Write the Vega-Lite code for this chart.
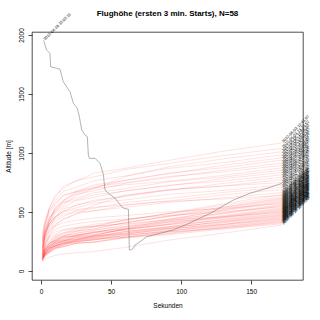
{
"$schema": "https://vega.github.io/schema/vega-lite/v6.json",
"width": 271, "height": 248,
"autosize": {"type": "none"},
"padding": {"left": 32, "top": 32, "right": 17, "bottom": 40},
"background": "white",
"title": {"text": "Flughöhe (ersten 3 min. Starts), N=58", "fontSize": 8, "fontWeight": "bold", "font": "Liberation Sans", "anchor": "middle", "offset": 11, "dy": 17, "color": "black"},
"config": {
 "view": {"stroke": "black", "strokeWidth": 0.7},
 "axis": {"domain": false, "grid": false, "tickColor": "black", "tickWidth": 0.7, "tickSize": 4, "labelFont": "Liberation Sans", "labelFontSize": 6.5, "labelColor": "black", "labelPadding": 4, "titleFont": "Liberation Sans", "titleFontSize": 6.5, "titleFontWeight": "normal", "titleColor": "black"},
 "axisX": {"titlePadding": 8},
 "axisY": {"labelAngle": 270, "labelAlign": "center", "labelBaseline": "bottom", "titlePadding": 7}
},
"datasets": {
"series": [
{"s":0,"lab":"2012-04-28 15:02:11"},{"s":1,"lab":"2012-05-03 12:41:07"},{"s":2,"lab":"2012-05-03 13:15:52"},{"s":3,"lab":"2012-05-05 11:58:20"},{"s":4,"lab":"2012-05-06 14:22:45"},{"s":5,"lab":"2012-05-10 12:03:18"},{"s":6,"lab":"2012-05-12 13:37:09"},{"s":7,"lab":"2012-05-13 15:11:44"},{"s":8,"lab":"2012-05-19 12:26:30"},{"s":9,"lab":"2012-05-20 14:49:02"},{"s":10,"lab":"2012-05-26 13:05:57"},{"s":11,"lab":"2012-05-27 11:44:36"},{"s":12,"lab":"2012-06-02 12:58:14"},{"s":13,"lab":"2012-06-03 14:10:48"},{"s":14,"lab":"2012-06-09 13:29:05"},{"s":15,"lab":"2012-06-10 12:17:39"},{"s":16,"lab":"2012-06-16 15:33:21"},{"s":17,"lab":"2012-06-17 13:46:50"},{"s":18,"lab":"2012-06-23 12:08:26"},{"s":19,"lab":"2012-06-24 14:55:13"},{"s":20,"lab":"2012-06-30 13:21:42"},{"s":21,"lab":"2012-07-01 12:39:58"},{"s":22,"lab":"2012-07-07 14:04:31"},{"s":23,"lab":"2012-07-08 13:52:16"},{"s":24,"lab":"2012-07-14 12:30:09"},{"s":25,"lab":"2012-07-15 15:18:47"},{"s":26,"lab":"2012-07-21 13:09:33"},{"s":27,"lab":"2012-07-22 11:57:25"},{"s":28,"lab":"2012-07-28 14:43:10"},{"s":29,"lab":"2012-07-29 12:51:38"},{"s":30,"lab":"2012-08-04 13:27:54"},{"s":31,"lab":"2012-08-05 14:36:19"},{"s":32,"lab":"2012-08-11 12:12:02"},{"s":33,"lab":"2012-08-12 13:58:46"},{"s":34,"lab":"2012-08-18 15:06:27"},{"s":35,"lab":"2012-08-19 12:45:13"},{"s":36,"lab":"2012-08-25 14:19:51"},{"s":37,"lab":"2012-08-26 13:33:08"},{"s":38,"lab":"2012-09-01 12:24:40"},{"s":39,"lab":"2012-09-02 14:07:35"},{"s":40,"lab":"2012-09-08 13:14:22"},{"s":41,"lab":"2012-09-09 12:48:59"},{"s":42,"lab":"2012-09-15 14:31:06"},{"s":43,"lab":"2012-09-16 13:02:44"},{"s":44,"lab":"2012-09-22 12:36:17"},{"s":45,"lab":"2012-09-23 14:59:28"},{"s":46,"lab":"2012-09-29 13:40:03"},{"s":47,"lab":"2012-09-30 12:19:55"},{"s":48,"lab":"2012-10-06 14:13:37"},{"s":49,"lab":"2012-10-07 13:25:11"},{"s":50,"lab":"2012-04-14 12:53:49"},{"s":51,"lab":"2012-04-15 14:28:24"},{"s":52,"lab":"2012-04-21 13:44:06"},{"s":53,"lab":"2012-04-22 12:06:58"},{"s":54,"lab":"2012-06-06 15:24:32"},{"s":55,"lab":"2012-07-11 13:38:15"},{"s":56,"lab":"2012-08-15 14:01:43"},{"s":57,"lab":"2012-09-12 12:57:20"}
],
"tracks": [
{"s":0,"t":1.9,"h":1952},{"s":0,"t":4.0,"h":1873},{"s":0,"t":6.4,"h":1845},{"s":0,"t":6.9,"h":1731},{"s":0,"t":11.2,"h":1718},{"s":0,"t":13.6,"h":1709},{"s":0,"t":15.9,"h":1604},{"s":0,"t":20.7,"h":1520},{"s":0,"t":23.1,"h":1421},{"s":0,"t":25.9,"h":1379},{"s":0,"t":27.4,"h":1308},{"s":0,"t":29.1,"h":1195},{"s":0,"t":31.4,"h":1153},{"s":0,"t":33.1,"h":1138},{"s":0,"t":33.8,"h":983},{"s":0,"t":34.5,"h":955},{"s":0,"t":38.6,"h":955},{"s":0,"t":42.1,"h":913},{"s":0,"t":44.5,"h":820},{"s":0,"t":45.7,"h":686},{"s":0,"t":48.1,"h":658},{"s":0,"t":52.9,"h":616},{"s":0,"t":57.6,"h":545},{"s":0,"t":59.3,"h":531},{"s":0,"t":62.4,"h":523},{"s":0,"t":63.1,"h":178},{"s":0,"t":64.1,"h":178},{"s":0,"t":65.9,"h":192},{"s":0,"t":67.1,"h":220},{"s":0,"t":70.7,"h":248},{"s":0,"t":75.5,"h":291},{"s":0,"t":80.2,"h":305},{"s":0,"t":94,"h":347},{"s":0,"t":104,"h":395},{"s":0,"t":112,"h":440},{"s":0,"t":121,"h":490},{"s":0,"t":137,"h":600},{"s":0,"t":149,"h":658},{"s":0,"t":161,"h":700},{"s":0,"t":172,"h":743},
{"s":1,"t":1,"h":250},{"s":1,"t":3,"h":395},{"s":1,"t":6,"h":540},{"s":1,"t":10,"h":615},{"s":1,"t":16,"h":720},{"s":1,"t":25,"h":760},{"s":1,"t":38,"h":830},{"s":1,"t":60,"h":870},{"s":1,"t":90,"h":935},{"s":1,"t":130,"h":1015},{"s":1,"t":172,"h":1085},
{"s":2,"t":1,"h":300},{"s":2,"t":3,"h":440},{"s":2,"t":6,"h":535},{"s":2,"t":10,"h":640},{"s":2,"t":16,"h":700},{"s":2,"t":25,"h":765},{"s":2,"t":38,"h":798},{"s":2,"t":60,"h":860},{"s":2,"t":90,"h":910},{"s":2,"t":130,"h":978},{"s":2,"t":172,"h":1040},
{"s":3,"t":1,"h":220},{"s":3,"t":3,"h":340},{"s":3,"t":6,"h":420},{"s":3,"t":10,"h":500},{"s":3,"t":16,"h":560},{"s":3,"t":25,"h":640},{"s":3,"t":38,"h":700},{"s":3,"t":60,"h":800},{"s":3,"t":90,"h":880},{"s":3,"t":130,"h":950},{"s":3,"t":172,"h":1010},
{"s":4,"t":1,"h":280},{"s":4,"t":3,"h":400},{"s":4,"t":6,"h":520},{"s":4,"t":10,"h":590},{"s":4,"t":16,"h":675},{"s":4,"t":25,"h":710},{"s":4,"t":38,"h":765},{"s":4,"t":60,"h":805},{"s":4,"t":90,"h":868},{"s":4,"t":130,"h":918},{"s":4,"t":172,"h":985},
{"s":5,"t":1,"h":180},{"s":5,"t":3,"h":330},{"s":5,"t":6,"h":430},{"s":5,"t":10,"h":540},{"s":5,"t":16,"h":600},{"s":5,"t":25,"h":670},{"s":5,"t":38,"h":705},{"s":5,"t":60,"h":770},{"s":5,"t":90,"h":822},{"s":5,"t":130,"h":895},{"s":5,"t":172,"h":960},
{"s":6,"t":1,"h":260},{"s":6,"t":3,"h":375},{"s":6,"t":6,"h":495},{"s":6,"t":10,"h":560},{"s":6,"t":16,"h":640},{"s":6,"t":25,"h":676},{"s":6,"t":38,"h":730},{"s":6,"t":60,"h":765},{"s":6,"t":90,"h":828},{"s":6,"t":130,"h":875},{"s":6,"t":172,"h":940},
{"s":7,"t":1,"h":200},{"s":7,"t":3,"h":335},{"s":7,"t":6,"h":428},{"s":7,"t":10,"h":530},{"s":7,"t":16,"h":588},{"s":7,"t":25,"h":650},{"s":7,"t":38,"h":680},{"s":7,"t":60,"h":742},{"s":7,"t":90,"h":790},{"s":7,"t":130,"h":855},{"s":7,"t":172,"h":915},
{"s":8,"t":1,"h":320},{"s":8,"t":3,"h":418},{"s":8,"t":6,"h":515},{"s":8,"t":10,"h":572},{"s":8,"t":16,"h":642},{"s":8,"t":25,"h":670},{"s":8,"t":38,"h":716},{"s":8,"t":60,"h":748},{"s":8,"t":90,"h":800},{"s":8,"t":130,"h":840},{"s":8,"t":172,"h":895},
{"s":9,"t":1,"h":150},{"s":9,"t":3,"h":310},{"s":9,"t":6,"h":420},{"s":9,"t":10,"h":520},{"s":9,"t":16,"h":600},{"s":9,"t":25,"h":660},{"s":9,"t":38,"h":700},{"s":9,"t":60,"h":730},{"s":9,"t":90,"h":760},{"s":9,"t":130,"h":810},{"s":9,"t":172,"h":875},
{"s":10,"t":1,"h":240},{"s":10,"t":3,"h":345},{"s":10,"t":6,"h":450},{"s":10,"t":10,"h":510},{"s":10,"t":16,"h":585},{"s":10,"t":25,"h":615},{"s":10,"t":38,"h":664},{"s":10,"t":60,"h":698},{"s":10,"t":90,"h":754},{"s":10,"t":130,"h":796},{"s":10,"t":172,"h":855},
{"s":11,"t":1,"h":190},{"s":11,"t":3,"h":312},{"s":11,"t":6,"h":396},{"s":11,"t":10,"h":488},{"s":11,"t":16,"h":540},{"s":11,"t":25,"h":596},{"s":11,"t":38,"h":624},{"s":11,"t":60,"h":680},{"s":11,"t":90,"h":720},{"s":11,"t":130,"h":782},{"s":11,"t":172,"h":835},
{"s":12,"t":1,"h":270},{"s":12,"t":3,"h":362},{"s":12,"t":6,"h":456},{"s":12,"t":10,"h":508},{"s":12,"t":16,"h":575},{"s":12,"t":25,"h":602},{"s":12,"t":38,"h":646},{"s":12,"t":60,"h":676},{"s":12,"t":90,"h":726},{"s":12,"t":130,"h":762},{"s":12,"t":172,"h":815},
{"s":13,"t":1,"h":160},{"s":13,"t":3,"h":282},{"s":13,"t":6,"h":362},{"s":13,"t":10,"h":454},{"s":13,"t":16,"h":504},{"s":13,"t":25,"h":560},{"s":13,"t":38,"h":588},{"s":13,"t":60,"h":642},{"s":13,"t":90,"h":683},{"s":13,"t":130,"h":742},{"s":13,"t":172,"h":795},
{"s":14,"t":1,"h":210},{"s":14,"t":3,"h":305},{"s":14,"t":6,"h":402},{"s":14,"t":10,"h":458},{"s":14,"t":16,"h":527},{"s":14,"t":25,"h":555},{"s":14,"t":38,"h":600},{"s":14,"t":60,"h":630},{"s":14,"t":90,"h":684},{"s":14,"t":130,"h":720},{"s":14,"t":172,"h":775},
{"s":15,"t":1,"h":130},{"s":15,"t":3,"h":220},{"s":15,"t":6,"h":300},{"s":15,"t":10,"h":380},{"s":15,"t":16,"h":440},{"s":15,"t":25,"h":480},{"s":15,"t":38,"h":560},{"s":15,"t":60,"h":640},{"s":15,"t":90,"h":690},{"s":15,"t":130,"h":720},{"s":15,"t":172,"h":750},
{"s":16,"t":1,"h":230},{"s":16,"t":3,"h":314},{"s":16,"t":6,"h":400},{"s":16,"t":10,"h":450},{"s":16,"t":16,"h":510},{"s":16,"t":25,"h":535},{"s":16,"t":38,"h":575},{"s":16,"t":60,"h":602},{"s":16,"t":90,"h":649},{"s":16,"t":130,"h":682},{"s":16,"t":172,"h":730},
{"s":17,"t":1,"h":170},{"s":17,"t":3,"h":274},{"s":17,"t":6,"h":342},{"s":17,"t":10,"h":420},{"s":17,"t":16,"h":462},{"s":17,"t":25,"h":510},{"s":17,"t":38,"h":532},{"s":17,"t":60,"h":580},{"s":17,"t":90,"h":614},{"s":17,"t":130,"h":665},{"s":17,"t":172,"h":710},
{"s":18,"t":1,"h":140},{"s":18,"t":3,"h":245},{"s":18,"t":6,"h":316},{"s":18,"t":10,"h":395},{"s":18,"t":16,"h":438},{"s":18,"t":25,"h":486},{"s":18,"t":38,"h":510},{"s":18,"t":60,"h":558},{"s":18,"t":90,"h":593},{"s":18,"t":130,"h":645},{"s":18,"t":172,"h":690},
{"s":19,"t":1,"h":200},{"s":19,"t":3,"h":300},{"s":19,"t":6,"h":380},{"s":19,"t":10,"h":440},{"s":19,"t":16,"h":480},{"s":19,"t":25,"h":500},{"s":19,"t":38,"h":510},{"s":19,"t":60,"h":540},{"s":19,"t":90,"h":580},{"s":19,"t":130,"h":620},{"s":19,"t":172,"h":665},
{"s":20,"t":1,"h":120},{"s":20,"t":3,"h":190},{"s":20,"t":6,"h":230},{"s":20,"t":10,"h":286},{"s":20,"t":16,"h":312},{"s":20,"t":25,"h":354},{"s":20,"t":38,"h":376},{"s":20,"t":60,"h":432},{"s":20,"t":90,"h":487},{"s":20,"t":130,"h":570},{"s":20,"t":172,"h":650},
{"s":21,"t":1,"h":250},{"s":21,"t":3,"h":330},{"s":21,"t":6,"h":400},{"s":21,"t":10,"h":460},{"s":21,"t":16,"h":500},{"s":21,"t":25,"h":520},{"s":21,"t":38,"h":540},{"s":21,"t":60,"h":560},{"s":21,"t":90,"h":590},{"s":21,"t":130,"h":610},{"s":21,"t":172,"h":640},
{"s":22,"t":1,"h":150},{"s":22,"t":3,"h":214},{"s":22,"t":6,"h":250},{"s":22,"t":10,"h":300},{"s":22,"t":16,"h":324},{"s":22,"t":25,"h":362},{"s":22,"t":38,"h":380},{"s":22,"t":60,"h":434},{"s":22,"t":90,"h":482},{"s":22,"t":130,"h":558},{"s":22,"t":172,"h":630},
{"s":23,"t":1,"h":110},{"s":23,"t":3,"h":176},{"s":23,"t":6,"h":216},{"s":23,"t":10,"h":270},{"s":23,"t":16,"h":294},{"s":23,"t":25,"h":334},{"s":23,"t":38,"h":356},{"s":23,"t":60,"h":412},{"s":23,"t":90,"h":463},{"s":23,"t":130,"h":542},{"s":23,"t":172,"h":620},
{"s":24,"t":1,"h":180},{"s":24,"t":3,"h":226},{"s":24,"t":6,"h":281},{"s":24,"t":10,"h":305},{"s":24,"t":16,"h":346},{"s":24,"t":25,"h":362},{"s":24,"t":38,"h":397},{"s":24,"t":60,"h":428},{"s":24,"t":90,"h":486},{"s":24,"t":130,"h":540},{"s":24,"t":172,"h":612},
{"s":25,"t":1,"h":130},{"s":25,"t":3,"h":192},{"s":25,"t":6,"h":228},{"s":25,"t":10,"h":278},{"s":25,"t":16,"h":300},{"s":25,"t":25,"h":340},{"s":25,"t":38,"h":358},{"s":25,"t":60,"h":410},{"s":25,"t":90,"h":458},{"s":25,"t":130,"h":532},{"s":25,"t":172,"h":604},
{"s":26,"t":1,"h":95},{"s":26,"t":3,"h":130},{"s":26,"t":6,"h":160},{"s":26,"t":10,"h":190},{"s":26,"t":16,"h":220},{"s":26,"t":25,"h":260},{"s":26,"t":38,"h":300},{"s":26,"t":60,"h":360},{"s":26,"t":90,"h":430},{"s":26,"t":130,"h":520},{"s":26,"t":172,"h":596},
{"s":27,"t":1,"h":160},{"s":27,"t":3,"h":206},{"s":27,"t":6,"h":260},{"s":27,"t":10,"h":284},{"s":27,"t":16,"h":324},{"s":27,"t":25,"h":340},{"s":27,"t":38,"h":375},{"s":27,"t":60,"h":405},{"s":27,"t":90,"h":464},{"s":27,"t":130,"h":516},{"s":27,"t":172,"h":588},
{"s":28,"t":1,"h":120},{"s":28,"t":3,"h":180},{"s":28,"t":6,"h":216},{"s":28,"t":10,"h":264},{"s":28,"t":16,"h":286},{"s":28,"t":25,"h":323},{"s":28,"t":38,"h":341},{"s":28,"t":60,"h":392},{"s":28,"t":90,"h":438},{"s":28,"t":130,"h":510},{"s":28,"t":172,"h":580},
{"s":29,"t":1,"h":200},{"s":29,"t":3,"h":280},{"s":29,"t":6,"h":340},{"s":29,"t":10,"h":380},{"s":29,"t":16,"h":410},{"s":29,"t":25,"h":430},{"s":29,"t":38,"h":450},{"s":29,"t":60,"h":470},{"s":29,"t":90,"h":500},{"s":29,"t":130,"h":530},{"s":29,"t":172,"h":572},
{"s":30,"t":1,"h":100},{"s":30,"t":3,"h":162},{"s":30,"t":6,"h":197},{"s":30,"t":10,"h":246},{"s":30,"t":16,"h":268},{"s":30,"t":25,"h":305},{"s":30,"t":38,"h":324},{"s":30,"t":60,"h":375},{"s":30,"t":90,"h":422},{"s":30,"t":130,"h":495},{"s":30,"t":172,"h":565},
{"s":31,"t":1,"h":140},{"s":31,"t":3,"h":186},{"s":31,"t":6,"h":238},{"s":31,"t":10,"h":260},{"s":31,"t":16,"h":300},{"s":31,"t":25,"h":316},{"s":31,"t":38,"h":350},{"s":31,"t":60,"h":378},{"s":31,"t":90,"h":437},{"s":31,"t":130,"h":487},{"s":31,"t":172,"h":558},
{"s":32,"t":1,"h":115},{"s":32,"t":3,"h":172},{"s":32,"t":6,"h":206},{"s":32,"t":10,"h":252},{"s":32,"t":16,"h":272},{"s":32,"t":25,"h":307},{"s":32,"t":38,"h":325},{"s":32,"t":60,"h":373},{"s":32,"t":90,"h":416},{"s":32,"t":130,"h":485},{"s":32,"t":172,"h":551},
{"s":33,"t":1,"h":170},{"s":33,"t":3,"h":250},{"s":33,"t":6,"h":300},{"s":33,"t":10,"h":350},{"s":33,"t":16,"h":380},{"s":33,"t":25,"h":400},{"s":33,"t":38,"h":420},{"s":33,"t":60,"h":440},{"s":33,"t":90,"h":470},{"s":33,"t":130,"h":500},{"s":33,"t":172,"h":544},
{"s":34,"t":1,"h":90},{"s":34,"t":3,"h":150},{"s":34,"t":6,"h":183},{"s":34,"t":10,"h":230},{"s":34,"t":16,"h":251},{"s":34,"t":25,"h":288},{"s":34,"t":38,"h":305},{"s":34,"t":60,"h":354},{"s":34,"t":90,"h":399},{"s":34,"t":130,"h":470},{"s":34,"t":172,"h":537},
{"s":35,"t":1,"h":130},{"s":35,"t":3,"h":174},{"s":35,"t":6,"h":224},{"s":35,"t":10,"h":246},{"s":35,"t":16,"h":284},{"s":35,"t":25,"h":298},{"s":35,"t":38,"h":331},{"s":35,"t":60,"h":358},{"s":35,"t":90,"h":414},{"s":35,"t":130,"h":462},{"s":35,"t":172,"h":530},
{"s":36,"t":1,"h":105},{"s":36,"t":3,"h":160},{"s":36,"t":6,"h":192},{"s":36,"t":10,"h":236},{"s":36,"t":16,"h":256},{"s":36,"t":25,"h":290},{"s":36,"t":38,"h":306},{"s":36,"t":60,"h":352},{"s":36,"t":90,"h":394},{"s":36,"t":130,"h":460},{"s":36,"t":172,"h":523},
{"s":37,"t":1,"h":150},{"s":37,"t":3,"h":190},{"s":37,"t":6,"h":236},{"s":37,"t":10,"h":256},{"s":37,"t":16,"h":290},{"s":37,"t":25,"h":303},{"s":37,"t":38,"h":334},{"s":37,"t":60,"h":358},{"s":37,"t":90,"h":410},{"s":37,"t":130,"h":453},{"s":37,"t":172,"h":516},
{"s":38,"t":1,"h":125},{"s":38,"t":3,"h":176},{"s":38,"t":6,"h":205},{"s":38,"t":10,"h":246},{"s":38,"t":16,"h":263},{"s":38,"t":25,"h":296},{"s":38,"t":38,"h":310},{"s":38,"t":60,"h":353},{"s":38,"t":90,"h":391},{"s":38,"t":130,"h":452},{"s":38,"t":172,"h":510},
{"s":39,"t":1,"h":85},{"s":39,"t":3,"h":140},{"s":39,"t":6,"h":172},{"s":39,"t":10,"h":216},{"s":39,"t":16,"h":236},{"s":39,"t":25,"h":270},{"s":39,"t":38,"h":286},{"s":39,"t":60,"h":333},{"s":39,"t":90,"h":374},{"s":39,"t":130,"h":441},{"s":39,"t":172,"h":504},
{"s":40,"t":1,"h":140},{"s":40,"t":3,"h":230},{"s":40,"t":6,"h":290},{"s":40,"t":10,"h":330},{"s":40,"t":16,"h":350},{"s":40,"t":25,"h":370},{"s":40,"t":38,"h":380},{"s":40,"t":60,"h":400},{"s":40,"t":90,"h":430},{"s":40,"t":130,"h":460},{"s":40,"t":172,"h":498},
{"s":41,"t":1,"h":110},{"s":41,"t":3,"h":161},{"s":41,"t":6,"h":189},{"s":41,"t":10,"h":230},{"s":41,"t":16,"h":247},{"s":41,"t":25,"h":279},{"s":41,"t":38,"h":293},{"s":41,"t":60,"h":337},{"s":41,"t":90,"h":373},{"s":41,"t":130,"h":435},{"s":41,"t":172,"h":492},
{"s":42,"t":1,"h":160},{"s":42,"t":3,"h":195},{"s":42,"t":6,"h":237},{"s":42,"t":10,"h":254},{"s":42,"t":16,"h":286},{"s":42,"t":25,"h":296},{"s":42,"t":38,"h":325},{"s":42,"t":60,"h":345},{"s":42,"t":90,"h":392},{"s":42,"t":130,"h":430},{"s":42,"t":172,"h":486},
{"s":43,"t":1,"h":95},{"s":43,"t":3,"h":146},{"s":43,"t":6,"h":175},{"s":43,"t":10,"h":216},{"s":43,"t":16,"h":233},{"s":43,"t":25,"h":266},{"s":43,"t":38,"h":280},{"s":43,"t":60,"h":323},{"s":43,"t":90,"h":361},{"s":43,"t":130,"h":422},{"s":43,"t":172,"h":480},
{"s":44,"t":1,"h":120},{"s":44,"t":3,"h":158},{"s":44,"t":6,"h":203},{"s":44,"t":10,"h":222},{"s":44,"t":16,"h":256},{"s":44,"t":25,"h":268},{"s":44,"t":38,"h":298},{"s":44,"t":60,"h":321},{"s":44,"t":90,"h":372},{"s":44,"t":130,"h":413},{"s":44,"t":172,"h":474},
{"s":45,"t":1,"h":135},{"s":45,"t":3,"h":180},{"s":45,"t":6,"h":204},{"s":45,"t":10,"h":240},{"s":45,"t":16,"h":254},{"s":45,"t":25,"h":283},{"s":45,"t":38,"h":294},{"s":45,"t":60,"h":333},{"s":45,"t":90,"h":364},{"s":45,"t":130,"h":419},{"s":45,"t":172,"h":468},
{"s":46,"t":1,"h":100},{"s":46,"t":3,"h":148},{"s":46,"t":6,"h":175},{"s":46,"t":10,"h":214},{"s":46,"t":16,"h":230},{"s":46,"t":25,"h":261},{"s":46,"t":38,"h":273},{"s":46,"t":60,"h":315},{"s":46,"t":90,"h":349},{"s":46,"t":130,"h":408},{"s":46,"t":172,"h":462},
{"s":47,"t":1,"h":115},{"s":47,"t":3,"h":152},{"s":47,"t":6,"h":195},{"s":47,"t":10,"h":213},{"s":47,"t":16,"h":246},{"s":47,"t":25,"h":258},{"s":47,"t":38,"h":287},{"s":47,"t":60,"h":309},{"s":47,"t":90,"h":358},{"s":47,"t":130,"h":397},{"s":47,"t":172,"h":456},
{"s":48,"t":1,"h":90},{"s":48,"t":3,"h":138},{"s":48,"t":6,"h":164},{"s":48,"t":10,"h":203},{"s":48,"t":16,"h":219},{"s":48,"t":25,"h":250},{"s":48,"t":38,"h":262},{"s":48,"t":60,"h":304},{"s":48,"t":90,"h":338},{"s":48,"t":130,"h":396},{"s":48,"t":172,"h":450},
{"s":49,"t":1,"h":145},{"s":49,"t":3,"h":177},{"s":49,"t":6,"h":216},{"s":49,"t":10,"h":231},{"s":49,"t":16,"h":261},{"s":49,"t":25,"h":270},{"s":49,"t":38,"h":297},{"s":49,"t":60,"h":314},{"s":49,"t":90,"h":358},{"s":49,"t":130,"h":392},{"s":49,"t":172,"h":444},
{"s":50,"t":1,"h":105},{"s":50,"t":3,"h":150},{"s":50,"t":6,"h":173},{"s":50,"t":10,"h":210},{"s":50,"t":16,"h":224},{"s":50,"t":25,"h":253},{"s":50,"t":38,"h":264},{"s":50,"t":60,"h":303},{"s":50,"t":90,"h":334},{"s":50,"t":130,"h":389},{"s":50,"t":172,"h":438},
{"s":51,"t":1,"h":120},{"s":51,"t":3,"h":153},{"s":51,"t":6,"h":194},{"s":51,"t":10,"h":210},{"s":51,"t":16,"h":240},{"s":51,"t":25,"h":250},{"s":51,"t":38,"h":278},{"s":51,"t":60,"h":297},{"s":51,"t":90,"h":342},{"s":51,"t":130,"h":378},{"s":51,"t":172,"h":432},
{"s":52,"t":1,"h":80},{"s":52,"t":3,"h":127},{"s":52,"t":6,"h":151},{"s":52,"t":10,"h":189},{"s":52,"t":16,"h":204},{"s":52,"t":25,"h":234},{"s":52,"t":38,"h":246},{"s":52,"t":60,"h":286},{"s":52,"t":90,"h":318},{"s":52,"t":130,"h":375},{"s":52,"t":172,"h":426},
{"s":53,"t":1,"h":110},{"s":53,"t":3,"h":143},{"s":53,"t":6,"h":183},{"s":53,"t":10,"h":199},{"s":53,"t":16,"h":230},{"s":53,"t":25,"h":239},{"s":53,"t":38,"h":267},{"s":53,"t":60,"h":286},{"s":53,"t":90,"h":331},{"s":53,"t":130,"h":366},{"s":53,"t":172,"h":420},
{"s":54,"t":1,"h":95},{"s":54,"t":3,"h":138},{"s":54,"t":6,"h":160},{"s":54,"t":10,"h":196},{"s":54,"t":16,"h":209},{"s":54,"t":25,"h":237},{"s":54,"t":38,"h":247},{"s":54,"t":60,"h":285},{"s":54,"t":90,"h":314},{"s":54,"t":130,"h":367},{"s":54,"t":172,"h":414},
{"s":55,"t":1,"h":130},{"s":55,"t":3,"h":159},{"s":55,"t":6,"h":196},{"s":55,"t":10,"h":209},{"s":55,"t":16,"h":238},{"s":55,"t":25,"h":246},{"s":55,"t":38,"h":271},{"s":55,"t":60,"h":287},{"s":55,"t":90,"h":329},{"s":55,"t":130,"h":360},{"s":55,"t":172,"h":408},
{"s":56,"t":1,"h":100},{"s":56,"t":3,"h":141},{"s":56,"t":6,"h":161},{"s":56,"t":10,"h":195},{"s":56,"t":16,"h":207},{"s":56,"t":25,"h":234},{"s":56,"t":38,"h":243},{"s":56,"t":60,"h":279},{"s":56,"t":90,"h":306},{"s":56,"t":130,"h":356},{"s":56,"t":172,"h":400},
{"s":57,"t":1,"h":76},{"s":57,"t":3,"h":100},{"s":57,"t":6,"h":118},{"s":57,"t":10,"h":132},{"s":57,"t":16,"h":145},{"s":57,"t":25,"h":155},{"s":57,"t":38,"h":165},{"s":57,"t":60,"h":200},{"s":57,"t":90,"h":260},{"s":57,"t":130,"h":320},{"s":57,"t":172,"h":390}
]
},
"data": {"name": "tracks"},
"encoding": {
 "x": {"field": "t", "type": "quantitative", "scale": {"domain": [-6.4, 187], "nice": false, "zero": false}, "axis": {"values": [0, 50, 100, 150], "title": "Sekunden"}},
 "y": {"field": "h", "type": "quantitative", "scale": {"domain": [-76, 2025], "nice": false, "zero": false}, "axis": {"values": [0, 500, 1000, 1500, 2000], "format": "d", "title": "Altitude [m]"}}
},
"layer": [
 {"transform": [{"filter": "datum.s > 0"}], "mark": {"type": "line", "stroke": "#ff0000", "strokeOpacity": 0.22, "strokeWidth": 0.55}, "encoding": {"detail": {"field": "s", "type": "nominal"}}},
 {"transform": [{"filter": "datum.s == 0"}], "mark": {"type": "line", "stroke": "#666666", "strokeWidth": 0.5}, "encoding": {"detail": {"field": "s", "type": "nominal"}}},
 {"transform": [
   {"joinaggregate": [{"op": "max", "field": "t", "as": "tmax"}, {"op": "min", "field": "t", "as": "tmin"}], "groupby": ["s"]},
   {"filter": "datum.s == 0 ? datum.t == datum.tmin : datum.t == datum.tmax"},
   {"lookup": "s", "from": {"data": {"name": "series"}, "key": "s", "fields": ["lab"]}}
  ],
  "mark": {"type": "text", "angle": 315, "align": "left", "baseline": "middle", "fontSize": 4, "font": "Liberation Sans", "dx": 1, "color": "black"},
  "encoding": {"text": {"field": "lab", "type": "nominal"}}}
]
}
